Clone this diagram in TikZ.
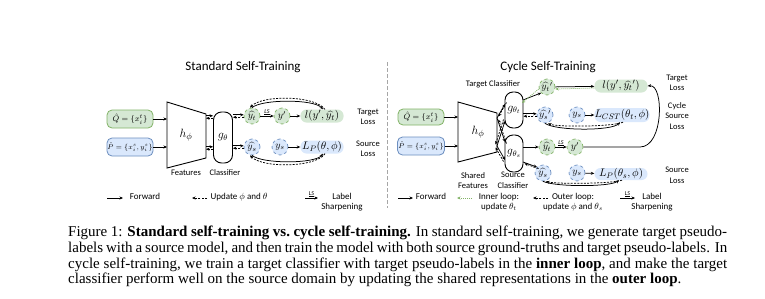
\documentclass[tikz,border=0pt]{standalone}
\usepackage{fontspec}
\setmainfont{Carlito}
\newfontfamily\capfont{Liberation Serif}
\usetikzlibrary{arrows.meta}
\definecolor{grnF}{HTML}{D5E8D4}
\definecolor{grnD}{HTML}{82B366}
\definecolor{bluF}{HTML}{DAE8FC}
\definecolor{bluD}{HTML}{6C8EBF}
\newcommand\dlnk[2]{\draw[fwd,transform canvas={yshift=1.2pt}] (#1) -- (#2);\draw[bwd,transform canvas={yshift=-1.2pt}] (#2) -- (#1);}
\begin{document}
\begin{tikzpicture}[x=1pt,y=-1pt,
  fwd/.style={-{Stealth[length=3.5pt,width=3pt]}, line width=0.75pt, black},
  bwd/.style={fwd, dash pattern=on 2pt off 1.3pt},
  innr/.style={-{Stealth[length=3.5pt,width=3pt]}, draw=grnD, line width=0.75pt, dash pattern=on 1pt off 1pt},
  inbox/.style={rounded corners=5pt, line width=0.8pt, minimum width=46pt, minimum height=18pt, inner sep=0pt},
  gin/.style={inbox, draw=grnD, fill=grnF},
  bin/.style={inbox, draw=bluD, fill=bluF},
  circ/.style={circle, dashed, line width=0.7pt, minimum size=16pt, inner sep=0pt, font=\fontsize{10}{11}\selectfont},
  gc/.style={circ, draw=grnD, fill=grnF},
  bc/.style={circ, draw=bluD, fill=bluF},
  loss/.style={rounded corners=6pt, minimum height=13pt, inner sep=0pt, font=\fontsize{11}{12}\selectfont},
  gl/.style={loss, fill=grnF},
  bl/.style={loss, fill=bluF},
  gbx/.style={draw, line width=0.9pt, rounded corners=8pt, minimum width=19pt, inner sep=0pt, font=\fontsize{12}{13}\selectfont},
  trap/.style={draw, line width=0.9pt, fill=white},
  lab/.style={font=\fontsize{8.5}{10.5}\selectfont, align=center, inner sep=0pt},
  leg/.style={font=\fontsize{9}{10.5}\selectfont, align=center, inner sep=0pt, anchor=north},
  ttl/.style={font=\fontsize{13}{14}\selectfont, inner sep=0pt},
  lsl/.style={font=\fontsize{6}{7}\selectfont\itshape, inner sep=0.5pt, above}
]
\fill[white] (0,0) rectangle (765,298);
\useasboundingbox (0,0) rectangle (765,298);

% separator
\draw[gray!70, line width=0.8pt, dash pattern=on 4pt off 2pt] (387,62) coordinate (sepA) -- (387,208) coordinate (sepB);

% ================= LEFT =================
\node[ttl] (tl) at (243,67) {Standard Self-Training};
\node[gin, font=\fontsize{8.5}{9}\selectfont] (Q1) at (130,119) {$\hat{Q}=\{x_i^t\}$};
\node[bin, font=\fontsize{7}{8}\selectfont] (P1) at (130,147) {$\hat{P}=\{x_i^s,y_i^s\}$};
\draw[trap] (167,102) coordinate (t1a) -- (206,114) coordinate (t1b) -- (206,158) coordinate (t1c) -- (167,168) coordinate (t1d) -- cycle;
\node[font=\fontsize{13}{14}\selectfont] (h1) at (186,135) {$h_\phi$};
\draw[fwd] (Q1.east) -- (Q1.east -| t1a);
\draw[fwd] (P1.east) -- (P1.east -| t1a);
\node[gbx, minimum height=51pt] (g1) at (223,137.5) {$g_\theta$};
\coordinate (t1u) at (206,117);
\coordinate (t1l) at (206,148);
\dlnk{t1u}{t1u -| g1.west}
\dlnk{t1l}{t1l -| g1.west}
\node[gc] (yt1) at (252,116) {$\widehat{y_t}$};
\node[gc] (yp1) at (282,116) {$y'$};
\node[gl, minimum width=43pt] (l1) at (322,116) {$l(y',\widehat{y_t})$};
\node[bc] (ys1) at (252,147) {$\widehat{y_s}$};
\node[bc] (yy1) at (280,147) {$y_s$};
\node[bl, minimum width=43pt] (L1) at (322,147) {$L_P(\theta,\phi)$};
\dlnk{yt1.west -| g1.east}{yt1.west}
\dlnk{ys1.west -| g1.east}{ys1.west}
\draw[fwd] (yt1) -- node[lsl] {\underline{LS}} (yp1);
\draw[fwd] (yp1) -- (l1);
\draw[fwd] (yy1) -- (L1);
\draw[fwd] (yt1.north) .. controls (262,99) and (314,99) .. ([xshift=1pt]l1.north);
\draw[bwd] ([xshift=3pt]l1.north) .. controls (314,95) and (262,95) .. ([xshift=-2pt]yt1.north);
\draw[fwd] (ys1.south) .. controls (262,164) and (315,164) .. ([xshift=1pt]L1.south);
\draw[bwd] ([xshift=3pt]L1.south) .. controls (315,168) and (262,168) .. ([xshift=-2pt]ys1.south);
\node[lab] (tlL) at (368,117) {Target\\Loss};
\node[lab] (slL) at (368,149) {Source\\Loss};
\node[lab] (fL) at (186,173) {Features};
\node[lab] (cL) at (225,173) {Classifier};

% legend left
\coordinate (lf1) at (107,198); \coordinate (lf2) at (123,198);
\draw[fwd] (lf1) -- (lf2);
\node[leg] (lfT) at (145,193) {Forward};
\coordinate (lu1) at (207,198); \coordinate (lu2) at (192,198);
\draw[bwd] (lu1) -- (lu2);
\node[leg] (luT) at (239,193) {Update $\phi$ and $\theta$};
\coordinate (ll1) at (305,198); \coordinate (ll2) at (318,198);
\draw[fwd] (ll1) -- node[lsl] {\underline{LS}} (ll2);
\node[leg] (llT) at (342,193) {Label\\Sharpening};

% ================= RIGHT =================
\node[ttl] (tr) at (548,67) {Cycle Self-Training};
\node[lab] (tcl) at (493,84) {Target Classifier};
\node[gin, minimum height=16pt, font=\fontsize{8.5}{9}\selectfont] (Q2) at (421,117) {$\hat{Q}=\{x_i^t\}$};
\node[bin, minimum width=47pt, font=\fontsize{7}{8}\selectfont] (P2) at (421,146) {$\hat{P}=\{x_i^s,y_i^s\}$};
\draw[trap] (458,102) coordinate (t2a) -- (497,113) coordinate (t2b) -- (497,152) coordinate (t2c) -- (458,162) coordinate (t2d) -- cycle;
\node[font=\fontsize{13}{14}\selectfont] (h2) at (478,132) {$h_\phi$};
\draw[fwd] (Q2.east) -- (Q2.east -| t2a);
\draw[fwd] (P2.east) -- (P2.east -| t2a);
\node[gbx, minimum height=36pt, minimum width=18pt] (gt) at (514,110) {$g_{\theta_t}$};
\node[gbx, minimum height=37pt, minimum width=18pt] (gs) at (514,153.5) {$g_{\theta_s}$};
% crossing links
\coordinate (A2) at (497,118); \coordinate (B2) at (497,146);
\coordinate (gtA) at (505,104); \coordinate (gtB) at (505,121);
\coordinate (gsA) at (505,142); \coordinate (gsB) at (505,160);
\draw[fwd] (A2) -- (gtA); \draw[bwd] ([xshift=1.5pt,yshift=1.5pt]gtA) -- ([xshift=1.5pt,yshift=1.5pt]A2);
\draw[fwd] (A2) -- (gsA); \draw[bwd] ([xshift=1.5pt,yshift=-1.5pt]gsA) -- ([xshift=1.5pt,yshift=-1.5pt]A2);
\draw[fwd] (B2) -- (gtB); \draw[bwd] ([xshift=-1.5pt,yshift=1.5pt]gtB) -- ([xshift=-1.5pt,yshift=1.5pt]B2);
\draw[fwd] (B2) -- (gsB); \draw[bwd] ([xshift=-1.5pt,yshift=-1.5pt]gsB) -- ([xshift=-1.5pt,yshift=-1.5pt]B2);

\node[gc] (yt2p) at (547,87) {$\widehat{y_t}{}'$};
\node[gl, minimum width=53pt] (l2) at (621,86) {$l(y',\widehat{y_t}{}')$};
\node[bc] (ys2p) at (545,115) {$\widehat{y_s}{}'$};
\node[bc] (yy2) at (577,115) {$y_s$};
\node[bl, minimum width=55pt, minimum height=14pt] (Lc) at (622,115) {$L_{CST}(\theta_t,\phi)$};
\node[gc] (yt2) at (547,147) {$\widehat{y_t}$};
\node[gc] (yp2) at (575,147) {$y'$};
\node[bc] (ys2) at (543,173) {$\widehat{y_s}$};
\node[bc] (yy3) at (577,173) {$y_s$};
\node[bl, minimum width=53pt, minimum height=12pt] (Lp2) at (621,174) {$L_P(\theta_s,\phi)$};

\coordinate (gtC) at (523,100);
\draw[fwd] (gtC) -- (yt2p.south west);
\draw[innr] ([yshift=-2pt]yt2p.west) -- ([xshift=-1pt,yshift=-3pt]gtC);
\draw[fwd] (yt2p) -- (l2);
\draw[innr] ([yshift=-2pt]l2.west) -- ([yshift=-2pt]yt2p.east);
\dlnk{ys2p.west -| gt.east}{ys2p.west}
\draw[fwd] (yy2) -- (Lc);
\draw[fwd] (ys2p.south) .. controls (556,131) and (612,131) .. ([xshift=-2pt]Lc.south);
\draw[bwd] ([xshift=1pt]Lc.south) .. controls (612,127) and (556,127) .. ([xshift=3pt]ys2p.south);
\draw[fwd] (yt2.west -| gs.east) -- (yt2);
\draw[fwd] (yt2) -- node[lsl] {\underline{LS}} (yp2);
\draw[fwd] (yp2) -- (640,147) .. controls (664,147) and (664,84) .. (l2.east);
\coordinate (gsC) at (523,162);
\draw[fwd] (gsC) -- (ys2.north west);
\draw[bwd] ([xshift=1.5pt,yshift=-1.5pt]ys2.north west) -- ([xshift=1.5pt,yshift=-1.5pt]gsC);
\draw[fwd] (yy3) -- (Lp2);
\draw[fwd] (ys2.south) .. controls (555,187) and (610,187) .. ([xshift=-2pt]Lp2.south);
\draw[bwd] ([xshift=1pt]Lp2.south) .. controls (610,184) and (555,184) .. ([xshift=3pt]ys2.south);

\node[lab] (trL) at (677,83) {Target\\Loss};
\node[lab] (csL) at (677,116) {Cycle\\Source\\Loss};
\node[lab] (srL) at (677,175.5) {Source\\Loss};
\node[lab] (sfL) at (473,180.5) {Shared\\Features};
\node[lab] (scL) at (513,180.5) {Source\\Classifier};

% legend right
\coordinate (rf1) at (398,198); \coordinate (rf2) at (413,198);
\draw[fwd] (rf1) -- (rf2);
\node[leg] (rfT) at (431,193) {Forward};
\coordinate (ri1) at (472,198); \coordinate (ri2) at (457,198);
\draw[innr] (ri1) -- (ri2);
\node[leg] (riT) at (499,193) {Inner loop:\\update $\theta_t$};
\coordinate (ro1) at (548,198); \coordinate (ro2) at (533,198);
\draw[bwd] (ro1) -- (ro2);
\node[leg] (roT) at (573,193) {Outer loop:\\update $\phi$ and $\theta_s$};
\coordinate (rl1) at (620,198); \coordinate (rl2) at (635,198);
\draw[fwd] (rl1) -- node[lsl] {\underline{LS}} (rl2);
\node[leg] (rlT) at (652,193) {Label\\Sharpening};

% ================= CAPTION =================
\node[anchor=base west, inner sep=0pt] (cap) at (68,236.5) {\parbox[t]{659pt}{\capfont\fontsize{15}{15.8}\selectfont
\hbox to \linewidth{Figure 1: \textbf{Standard self-training vs.\ cycle self-training.} In standard self-training, we generate target pseudo-}
\hbox to \linewidth{labels with a source model, and then train the model with both source ground-truths and target pseudo-labels. In}
\hbox to \linewidth{cycle self-training, we train a target classifier with target pseudo-labels in the \textbf{inner loop}, and make the target}
\hbox{classifier perform well on the source domain by updating the shared representations in the \textbf{outer loop}.}}};
\end{tikzpicture}
\end{document}
